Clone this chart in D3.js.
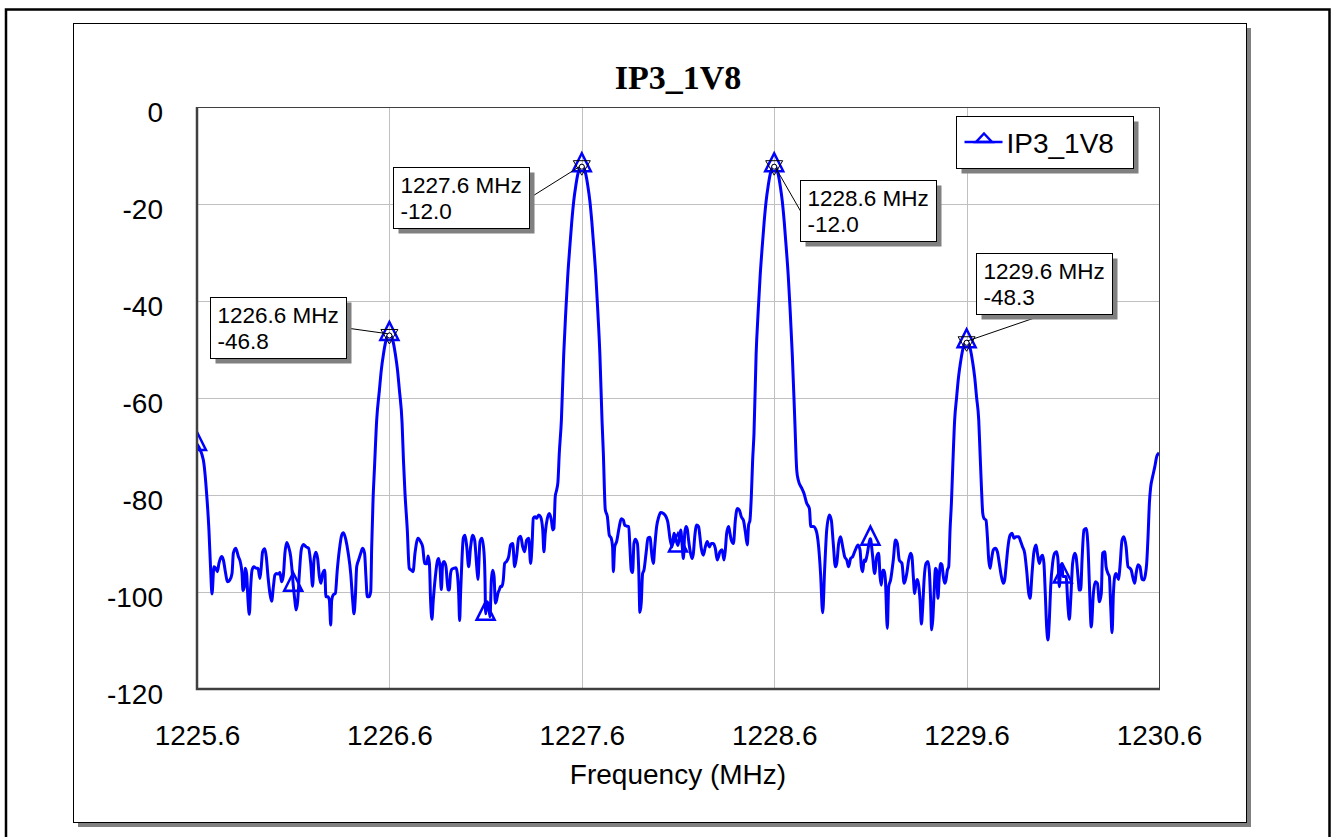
<!DOCTYPE html>
<html>
<head>
<meta charset="utf-8">
<script src="https://cdn.jsdelivr.net/npm/d3@7"></script>
<style>
  html, body { margin: 0; padding: 0; background: #fff; }
  svg { display: block; }
</style>
</head>
<body>
<svg id="chart" width="1333" height="837"></svg>
<script>
// ---- chart content ----
const chartTitle = "IP3_1V8";
const seriesName = "IP3_1V8";
const xAxisTitle = "Frequency (MHz)";
const xTicks = [1225.6, 1226.6, 1227.6, 1228.6, 1229.6, 1230.6];
const yTicks = [0, -20, -40, -60, -80, -100, -120];

// frequencies (MHz) where the series symbol is drawn
const symbolFreqs = [1225.6, 1226.1, 1226.6, 1227.1, 1227.6, 1228.1, 1228.6, 1229.1, 1229.6, 1230.1];

// frequencies (MHz) of the four labelled peak markers
const peakFreqs = [1226.6, 1227.6, 1228.6, 1229.6];

// measured spectrum: [frequency MHz, level dB]
const spectrum = [
  [1225.600,-69.5],[1225.633,-72.8],[1225.650,-79.7],[1225.662,-87.2],[1225.671,-95.5],[1225.678,-100.4],
  [1225.688,-94.8],[1225.697,-95.1],[1225.706,-95.8],[1225.714,-94.1],[1225.728,-92.7],[1225.737,-93.4],
  [1225.749,-96.2],[1225.758,-97.9],[1225.771,-97.5],[1225.782,-96.2],[1225.789,-92.0],[1225.801,-91.0],
  [1225.815,-92.7],[1225.827,-94.1],[1225.834,-96.2],[1225.839,-99.7],[1225.846,-98.9],[1225.851,-95.1],
  [1225.858,-96.2],[1225.865,-101.7],[1225.872,-104.6],[1225.879,-98.9],[1225.886,-95.5],[1225.896,-94.8],
  [1225.907,-95.1],[1225.917,-95.1],[1225.927,-97.2],[1225.934,-94.8],[1225.941,-91.7],[1225.952,-91.1],
  [1225.960,-92.7],[1225.969,-96.8],[1225.979,-100.3],[1225.988,-101.9],[1225.997,-98.9],[1226.005,-96.5],
  [1226.014,-96.2],[1226.024,-96.3],[1226.031,-96.0],[1226.040,-97.9],[1226.049,-96.5],[1226.057,-92.0],
  [1226.066,-89.8],[1226.076,-90.7],[1226.087,-92.7],[1226.094,-95.5],[1226.100,-98.5],[1226.108,-101.5],
  [1226.115,-103.7],[1226.123,-102.0],[1226.132,-96.2],[1226.142,-91.3],[1226.153,-90.2],[1226.167,-90.7],
  [1226.180,-91.0],[1226.191,-94.1],[1226.201,-98.8],[1226.208,-93.4],[1226.218,-91.8],[1226.227,-93.1],
  [1226.236,-96.8],[1226.244,-98.2],[1226.253,-96.2],[1226.264,-95.5],[1226.270,-101.0],[1226.281,-101.0],
  [1226.288,-101.7],[1226.295,-106.8],[1226.300,-101.7],[1226.308,-100.6],[1226.319,-100.3],[1226.329,-95.5],
  [1226.340,-91.3],[1226.352,-88.3],[1226.361,-87.8],[1226.374,-89.3],[1226.386,-92.0],[1226.399,-96.2],
  [1226.409,-101.7],[1226.416,-104.5],[1226.423,-101.0],[1226.430,-94.8],[1226.440,-93.4],[1226.451,-92.0],
  [1226.461,-91.0],[1226.471,-92.0],[1226.478,-96.8],[1226.485,-101.0],[1226.494,-101.0],[1226.503,-99.9],
  [1226.508,-90.7],[1226.515,-81.0],[1226.522,-74.8],[1226.534,-64.5],[1226.548,-58.4],[1226.558,-54.2],
  [1226.569,-51.0],[1226.579,-48.7],[1226.590,-47.3],[1226.600,-46.8],[1226.610,-47.3],[1226.621,-48.7],
  [1226.631,-51.0],[1226.642,-54.2],[1226.652,-58.4],[1226.666,-65.2],[1226.673,-72.8],[1226.681,-79.6],
  [1226.693,-87.2],[1226.703,-95.1],[1226.714,-95.5],[1226.723,-95.8],[1226.733,-92.0],[1226.749,-88.9],
  [1226.762,-89.6],[1226.773,-90.7],[1226.783,-94.1],[1226.794,-94.2],[1226.801,-92.6],[1226.808,-94.1],
  [1226.814,-101.7],[1226.821,-105.6],[1226.828,-101.7],[1226.839,-96.8],[1226.849,-93.7],[1226.856,-93.1],
  [1226.863,-94.8],[1226.870,-99.5],[1226.877,-94.1],[1226.884,-93.7],[1226.894,-94.8],[1226.905,-99.5],
  [1226.911,-99.6],[1226.918,-96.2],[1226.925,-95.3],[1226.936,-95.1],[1226.946,-95.0],[1226.953,-96.2],
  [1226.960,-100.3],[1226.965,-105.9],[1226.970,-100.3],[1226.977,-93.4],[1226.984,-88.9],[1226.993,-88.3],
  [1227.002,-90.7],[1227.012,-94.8],[1227.022,-90.7],[1227.033,-88.3],[1227.043,-89.3],[1227.054,-94.8],
  [1227.060,-97.4],[1227.071,-89.6],[1227.081,-88.9],[1227.092,-92.0],[1227.097,-97.5],[1227.100,-104.5],
  [1227.109,-102.0],[1227.116,-103.0],[1227.123,-105.1],[1227.130,-97.5],[1227.137,-95.5],[1227.144,-96.8],
  [1227.151,-102.3],[1227.157,-101.7],[1227.164,-100.3],[1227.171,-99.6],[1227.178,-98.8],[1227.185,-98.9],
  [1227.192,-97.5],[1227.199,-94.1],[1227.209,-93.7],[1227.220,-92.7],[1227.230,-90.3],[1227.241,-90.0],
  [1227.251,-94.8],[1227.261,-92.7],[1227.272,-88.9],[1227.282,-88.5],[1227.293,-90.7],[1227.303,-91.7],
  [1227.313,-89.3],[1227.324,-88.9],[1227.334,-94.1],[1227.341,-90.7],[1227.348,-84.8],[1227.357,-84.5],
  [1227.365,-84.8],[1227.376,-84.1],[1227.386,-84.5],[1227.397,-87.2],[1227.403,-91.7],[1227.410,-87.9],
  [1227.421,-84.8],[1227.431,-83.8],[1227.442,-85.2],[1227.449,-87.2],[1227.455,-86.9],[1227.462,-80.3],
  [1227.469,-79.0],[1227.476,-77.3],[1227.483,-71.4],[1227.494,-64.5],[1227.506,-51.0],[1227.517,-42.0],
  [1227.527,-34.8],[1227.538,-28.7],[1227.548,-23.6],[1227.558,-19.4],[1227.569,-16.2],[1227.579,-13.9],
  [1227.590,-12.5],[1227.600,-12.0],[1227.610,-12.5],[1227.621,-13.9],[1227.631,-16.2],[1227.642,-19.4],
  [1227.652,-23.6],[1227.662,-28.7],[1227.673,-34.8],[1227.683,-42.0],[1227.694,-51.0],[1227.705,-64.5],
  [1227.712,-71.4],[1227.722,-83.0],[1227.733,-84.5],[1227.743,-88.3],[1227.753,-88.9],[1227.760,-90.7],
  [1227.764,-95.8],[1227.771,-90.7],[1227.781,-89.6],[1227.795,-86.5],[1227.805,-84.9],[1227.816,-85.2],
  [1227.823,-86.2],[1227.833,-86.4],[1227.844,-86.5],[1227.850,-90.7],[1227.857,-95.5],[1227.864,-96.0],
  [1227.871,-90.0],[1227.878,-89.1],[1227.889,-90.0],[1227.896,-95.5],[1227.902,-104.2],[1227.909,-102.2],
  [1227.916,-96.2],[1227.923,-95.5],[1227.934,-92.0],[1227.944,-88.9],[1227.954,-88.7],[1227.965,-92.7],
  [1227.972,-94.1],[1227.979,-90.7],[1227.989,-86.5],[1228.000,-84.5],[1228.010,-83.6],[1228.024,-83.8],
  [1228.038,-84.5],[1228.048,-85.8],[1228.058,-88.9],[1228.069,-90.7],[1228.079,-87.9],[1228.090,-89.3],
  [1228.100,-90.4],[1228.114,-87.2],[1228.121,-90.0],[1228.128,-93.1],[1228.135,-87.9],[1228.142,-86.5],
  [1228.149,-87.2],[1228.155,-89.3],[1228.162,-91.3],[1228.173,-93.1],[1228.180,-92.0],[1228.187,-88.6],
  [1228.197,-86.2],[1228.207,-86.5],[1228.214,-88.6],[1228.221,-91.0],[1228.232,-92.4],[1228.242,-90.7],
  [1228.252,-89.6],[1228.263,-90.7],[1228.273,-90.0],[1228.284,-90.0],[1228.294,-91.0],[1228.304,-93.4],
  [1228.311,-92.7],[1228.318,-91.7],[1228.329,-91.3],[1228.339,-93.4],[1228.346,-91.3],[1228.353,-87.9],
  [1228.363,-86.5],[1228.370,-87.9],[1228.377,-89.3],[1228.388,-90.0],[1228.398,-85.2],[1228.408,-82.8],
  [1228.419,-83.1],[1228.429,-84.5],[1228.440,-85.2],[1228.450,-87.6],[1228.460,-90.3],[1228.467,-86.2],
  [1228.474,-85.2],[1228.481,-80.4],[1228.488,-72.8],[1228.495,-67.3],[1228.506,-51.0],[1228.517,-42.0],
  [1228.527,-34.8],[1228.538,-28.7],[1228.548,-23.6],[1228.558,-19.4],[1228.569,-16.2],[1228.579,-13.9],
  [1228.590,-12.5],[1228.600,-12.0],[1228.610,-12.5],[1228.621,-13.9],[1228.631,-16.2],[1228.642,-19.4],
  [1228.652,-23.6],[1228.662,-28.7],[1228.673,-34.8],[1228.683,-42.0],[1228.694,-51.0],[1228.707,-64.5],
  [1228.717,-74.8],[1228.725,-76.9],[1228.743,-78.6],[1228.755,-79.7],[1228.769,-81.7],[1228.783,-82.8],
  [1228.790,-86.5],[1228.803,-86.5],[1228.817,-87.2],[1228.831,-90.7],[1228.841,-96.2],[1228.852,-104.3],
  [1228.862,-95.5],[1228.873,-87.2],[1228.887,-84.1],[1228.897,-85.2],[1228.907,-90.0],[1228.918,-94.8],
  [1228.925,-94.1],[1228.935,-90.0],[1228.945,-88.6],[1228.956,-90.7],[1228.966,-92.7],[1228.977,-93.4],
  [1228.987,-94.8],[1228.997,-93.1],[1229.008,-92.7],[1229.022,-91.3],[1229.036,-90.3],[1229.046,-91.3],
  [1229.053,-94.8],[1229.060,-95.8],[1229.067,-93.4],[1229.074,-93.7],[1229.081,-92.7],[1229.100,-89.0],
  [1229.110,-92.0],[1229.122,-96.2],[1229.133,-92.7],[1229.143,-92.0],[1229.150,-96.8],[1229.157,-98.6],
  [1229.164,-95.5],[1229.171,-95.5],[1229.178,-97.5],[1229.188,-107.5],[1229.195,-98.9],[1229.205,-97.5],
  [1229.219,-93.4],[1229.230,-89.3],[1229.240,-90.0],[1229.250,-93.4],[1229.264,-94.1],[1229.275,-98.2],
  [1229.282,-97.5],[1229.289,-96.2],[1229.299,-93.4],[1229.309,-92.0],[1229.316,-92.7],[1229.323,-96.8],
  [1229.330,-100.3],[1229.337,-98.2],[1229.344,-97.4],[1229.351,-98.6],[1229.358,-101.7],[1229.365,-106.6],
  [1229.372,-103.0],[1229.379,-97.5],[1229.389,-94.1],[1229.399,-93.7],[1229.406,-95.5],[1229.413,-101.7],
  [1229.418,-107.8],[1229.424,-105.8],[1229.431,-100.3],[1229.438,-95.1],[1229.444,-95.5],[1229.451,-101.3],
  [1229.458,-96.8],[1229.465,-94.1],[1229.472,-94.4],[1229.479,-96.8],[1229.486,-98.2],[1229.493,-97.5],
  [1229.500,-95.5],[1229.507,-94.8],[1229.514,-87.2],[1229.521,-81.7],[1229.528,-74.2],[1229.538,-64.5],
  [1229.548,-59.9],[1229.558,-55.7],[1229.569,-52.5],[1229.579,-50.2],[1229.590,-48.8],[1229.600,-48.3],
  [1229.610,-48.8],[1229.621,-50.2],[1229.631,-52.5],[1229.642,-55.7],[1229.652,-59.9],[1229.663,-64.5],
  [1229.670,-71.4],[1229.677,-78.3],[1229.684,-83.8],[1229.690,-84.8],[1229.701,-85.2],[1229.708,-88.6],
  [1229.715,-93.4],[1229.722,-95.1],[1229.729,-93.4],[1229.739,-91.3],[1229.749,-91.0],[1229.760,-91.7],
  [1229.770,-94.1],[1229.781,-96.8],[1229.791,-98.2],[1229.798,-97.5],[1229.805,-94.8],[1229.815,-90.7],
  [1229.826,-88.3],[1229.836,-87.9],[1229.846,-88.9],[1229.857,-88.6],[1229.871,-88.6],[1229.881,-89.6],
  [1229.891,-90.7],[1229.902,-92.0],[1229.912,-95.5],[1229.923,-100.3],[1229.930,-101.3],[1229.940,-96.2],
  [1229.950,-91.7],[1229.961,-90.3],[1229.968,-92.0],[1229.978,-94.1],[1229.988,-92.7],[1229.995,-92.4],
  [1230.002,-94.1],[1230.009,-100.3],[1230.016,-107.2],[1230.023,-109.9],[1230.030,-105.8],[1230.037,-98.9],
  [1230.047,-94.1],[1230.058,-92.0],[1230.068,-91.7],[1230.075,-93.4],[1230.082,-98.9],[1230.089,-94.8],
  [1230.096,-94.1],[1230.100,-96.8],[1230.117,-96.8],[1230.127,-103.0],[1230.134,-105.6],[1230.141,-101.7],
  [1230.151,-94.1],[1230.162,-92.0],[1230.169,-92.7],[1230.179,-96.8],[1230.186,-99.6],[1230.193,-99.6],
  [1230.200,-93.4],[1230.210,-87.2],[1230.221,-86.9],[1230.231,-90.7],[1230.238,-98.2],[1230.248,-107.2],
  [1230.259,-100.3],[1230.269,-97.9],[1230.280,-98.2],[1230.290,-102.0],[1230.300,-100.3],[1230.307,-92.0],
  [1230.318,-91.7],[1230.325,-94.8],[1230.335,-96.2],[1230.342,-96.8],[1230.349,-103.0],[1230.356,-108.4],
  [1230.363,-100.3],[1230.370,-96.8],[1230.377,-96.2],[1230.383,-96.8],[1230.390,-97.4],[1230.397,-94.8],
  [1230.408,-89.3],[1230.418,-88.6],[1230.429,-90.7],[1230.439,-94.8],[1230.449,-95.1],[1230.456,-95.5],
  [1230.463,-96.8],[1230.474,-98.2],[1230.481,-96.2],[1230.491,-94.4],[1230.501,-94.8],[1230.512,-97.4],
  [1230.522,-97.5],[1230.529,-96.5],[1230.536,-94.1],[1230.543,-88.6],[1230.550,-81.7],[1230.557,-78.3],
  [1230.567,-76.2],[1230.578,-74.2],[1230.588,-72.1],[1230.598,-71.4],[1230.600,-71.3]
];

// ---- layout ----
const plot = { left: 197, top: 107, right: 1159, bottom: 689 };
const frame = { x: 73, y: 23, w: 1173, h: 799 };   // chart panel
const shadow = 5;
const fontSans = "'Liberation Sans', Arial, Helvetica, sans-serif";
const fontSerif = "'Liberation Serif', 'Times New Roman', Times, serif";
const blue = "#0000ff";

// label box offsets (px) from each peak marker
const labelOffsets = [
  { dx: -179, dy: -37 },
  { dx: -189, dy: 2 },
  { dx: 26, dy: 15 },
  { dx: 9, dy: -88 }
];
const labelBox = { w: 136, h: 61 };

const svg = d3.select("#chart");

const x = d3.scaleLinear().domain([xTicks[0], xTicks[xTicks.length - 1]]).range([plot.left, plot.right]);
const y = d3.scaleLinear().domain([-120, 0]).range([plot.bottom, plot.top]);

// outer border
svg.append("rect")
  .attr("x", 6).attr("y", 9.5).attr("width", 1323.5).attr("height", 840)
  .attr("fill", "#fff").attr("stroke", "#000").attr("stroke-width", 2.5);

// chart panel with drop shadow
svg.append("rect")
  .attr("x", frame.x + shadow).attr("y", frame.y + shadow)
  .attr("width", frame.w).attr("height", frame.h).attr("fill", "#808080");
svg.append("rect")
  .attr("x", frame.x + 0.5).attr("y", frame.y + 0.5)
  .attr("width", frame.w).attr("height", frame.h)
  .attr("fill", "#fff").attr("stroke", "#000").attr("stroke-width", 1);

// title
svg.append("text")
  .attr("x", (plot.left + plot.right) / 2).attr("y", 89)
  .attr("text-anchor", "middle")
  .style("font-family", fontSerif).style("font-weight", "bold").style("font-size", "34px")
  .text(chartTitle);

// grid lines
const grid = svg.append("g").attr("stroke", "#c0c0c0").attr("stroke-width", 1);
grid.selectAll("line.gx").data(xTicks.slice(1, -1)).join("line")
  .attr("x1", d => Math.round(x(d)) + 0.5).attr("x2", d => Math.round(x(d)) + 0.5)
  .attr("y1", plot.top).attr("y2", plot.bottom);
grid.selectAll("line.gy").data(yTicks.slice(1, -1)).join("line")
  .attr("y1", d => Math.round(y(d)) + 0.5).attr("y2", d => Math.round(y(d)) + 0.5)
  .attr("x1", plot.left).attr("x2", plot.right);

// axes (labels only)
const xAxis = svg.append("g")
  .attr("transform", `translate(0,${plot.bottom})`)
  .call(d3.axisBottom(x).tickValues(xTicks).tickFormat(v => v.toFixed(1)).tickSize(0).tickPadding(36));
const yAxis = svg.append("g")
  .attr("transform", `translate(${plot.left},0)`)
  .call(d3.axisLeft(y).tickValues(yTicks).tickFormat(v => String(v)).tickSize(0).tickPadding(34));
[xAxis, yAxis].forEach(g => {
  g.select(".domain").remove();
  g.selectAll("text").style("font-family", fontSans).style("font-size", "28px").attr("fill", "#000");
});
yAxis.selectAll("text").attr("dy", "0.5em");

// x-axis title
svg.append("text")
  .attr("x", (plot.left + plot.right) / 2).attr("y", 784)
  .attr("text-anchor", "middle")
  .style("font-family", fontSans).style("font-size", "28px")
  .text(xAxisTitle);

// plot frame
svg.append("rect")
  .attr("x", plot.left).attr("y", plot.top + 0.5)
  .attr("width", plot.right - plot.left + 0.5).attr("height", plot.bottom - plot.top)
  .attr("fill", "none").attr("stroke", "#404040").attr("stroke-width", 1);
svg.append("path")
  .attr("d", `M${plot.left},${plot.top} V${plot.bottom} H${plot.right + 1}`)
  .attr("fill", "none").attr("stroke", "#404040").attr("stroke-width", 2.5);

// clip region for the trace
svg.append("clipPath").attr("id", "plotClip")
  .append("rect")
  .attr("x", plot.left + 1).attr("y", plot.top)
  .attr("width", plot.right - plot.left - 1).attr("height", plot.bottom - plot.top - 1);

const traceG = svg.append("g").attr("clip-path", "url(#plotClip)");

const line = d3.line()
  .x(d => x(d[0]))
  .y(d => y(d[1]))
  .curve(d3.curveMonotoneX);

traceG.append("path")
  .datum(spectrum)
  .attr("d", line)
  .attr("fill", "none")
  .attr("stroke", blue)
  .attr("stroke-width", 3)
  .attr("stroke-linejoin", "round");

// nearest data point for a frequency
const pointAt = f => spectrum.reduce((a, b) => Math.abs(b[0] - f) < Math.abs(a[0] - f) ? b : a);

// series symbols (open triangles)
const triPath = "M0,-12 L9,6 L-9,6 Z";
traceG.selectAll("path.sym").data(symbolFreqs.map(pointAt)).join("path")
  .attr("class", "sym")
  .attr("d", triPath)
  .attr("transform", d => `translate(${x(d[0])},${y(d[1])})`)
  .attr("fill", "none").attr("stroke", blue).attr("stroke-width", 2.5)
  .attr("stroke-linejoin", "miter");

// peak markers with value labels
const peaks = peakFreqs.map(pointAt);
const markerG = svg.append("g");
peaks.forEach((p, i) => {
  const px = x(p[0]), py = y(p[1]);
  const bx = Math.round(px + labelOffsets[i].dx) + 0.5;
  const by = Math.round(py + labelOffsets[i].dy) + 0.5;
  const bw = labelBox.w, bh = labelBox.h;

  // leader attaches to the box side facing the marker
  const gapX = px < bx ? bx - px : (px > bx + bw ? px - (bx + bw) : 0);
  const gapY = py < by ? by - py : (py > by + bh ? py - (by + bh) : 0);
  let ax, ay;
  if (gapX >= gapY) {
    ax = px < bx ? bx : bx + bw;
    ay = by + bh / 2;
  } else {
    ax = bx + bw / 2;
    ay = py < by ? by : by + bh;
  }
  markerG.append("line")
    .attr("x1", ax).attr("y1", ay).attr("x2", px).attr("y2", py)
    .attr("stroke", "#000").attr("stroke-width", 1);

  markerG.append("rect")
    .attr("x", bx + shadow).attr("y", by + shadow).attr("width", bw).attr("height", bh)
    .attr("fill", "#808080");
  markerG.append("rect")
    .attr("x", bx).attr("y", by).attr("width", bw).attr("height", bh)
    .attr("fill", "#fff").attr("stroke", "#000").attr("stroke-width", 1);

  const t = markerG.append("text")
    .style("font-family", fontSans).style("font-size", "22.5px").attr("fill", "#000");
  t.append("tspan").attr("x", bx + 7).attr("y", by + 25).text(`${p[0].toFixed(1)} MHz`);
  t.append("tspan").attr("x", bx + 7).attr("y", by + 51).text(p[1].toFixed(1));

  // marker glyph: inverted triangle with centre ring
  markerG.append("path")
    .attr("d", "M-8.5,-4.5 L8.5,-4.5 L0,10 Z")
    .attr("transform", `translate(${px},${py})`)
    .attr("fill", "none").attr("stroke", "#000").attr("stroke-width", 1);
  markerG.append("circle")
    .attr("cx", px).attr("cy", py + 1.5).attr("r", 2.5)
    .attr("fill", "#fff").attr("stroke", "#000").attr("stroke-width", 1);
});

// legend
const lg = { x: 956.5, y: 116.5, w: 177, h: 52 };
svg.append("rect")
  .attr("x", lg.x + shadow).attr("y", lg.y + shadow).attr("width", lg.w).attr("height", lg.h)
  .attr("fill", "#808080");
svg.append("rect")
  .attr("x", lg.x).attr("y", lg.y).attr("width", lg.w).attr("height", lg.h)
  .attr("fill", "#fff").attr("stroke", "#000").attr("stroke-width", 1);
svg.append("line")
  .attr("x1", lg.x + 8).attr("x2", lg.x + 46).attr("y1", 142).attr("y2", 142)
  .attr("stroke", blue).attr("stroke-width", 2.5);
svg.append("path")
  .attr("d", "M0,-8.5 L8,0 L-8,0 Z")
  .attr("transform", `translate(${lg.x + 27.5},142)`)
  .attr("fill", "none").attr("stroke", blue).attr("stroke-width", 2.5);
svg.append("text")
  .attr("x", lg.x + 50).attr("y", 153)
  .style("font-family", fontSans).style("font-size", "28px")
  .text(seriesName);
</script>
</body>
</html>
